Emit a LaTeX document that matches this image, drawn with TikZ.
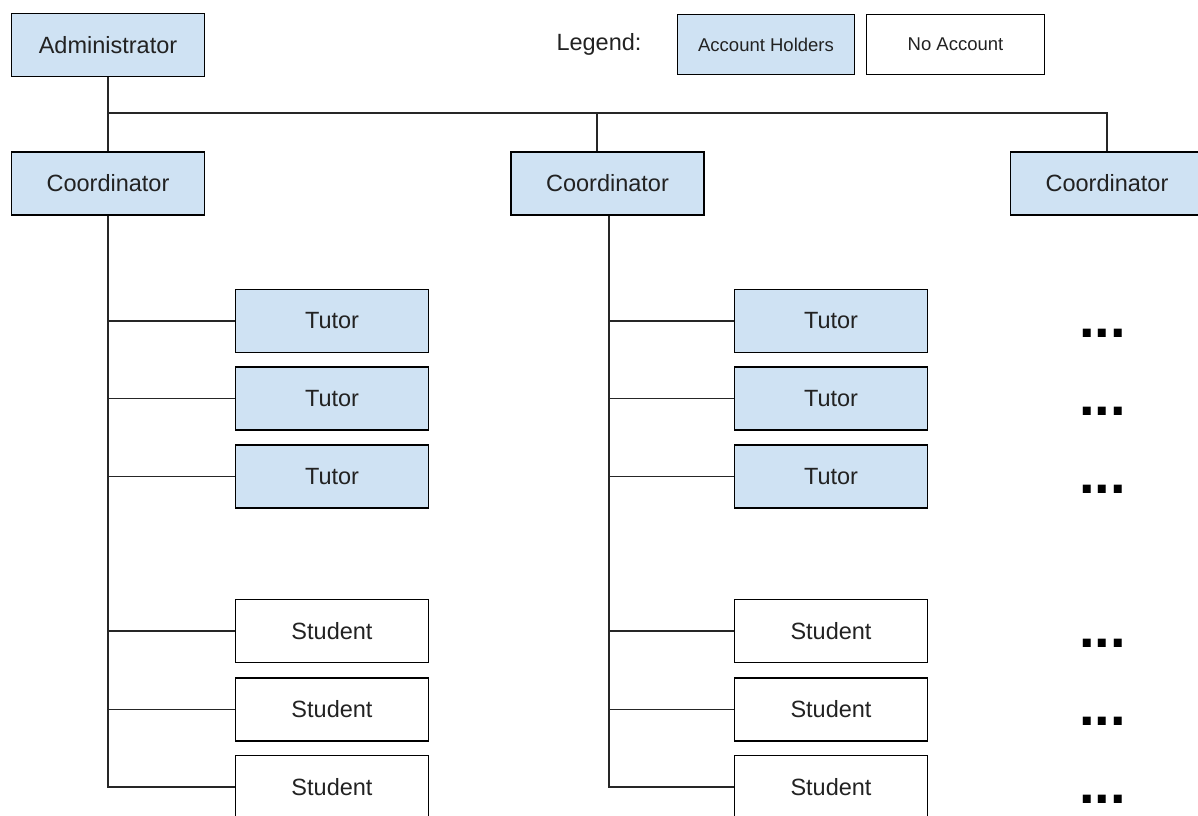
\documentclass[tikz,border=0pt]{standalone}
\usepackage{fontspec}
\setmainfont{Liberation Sans}
\definecolor{acct}{HTML}{CFE2F3}
\definecolor{ink}{HTML}{222222}
\begin{document}
\begin{tikzpicture}[x=1pt,y=-1pt,
  box/.style={draw=black,line width=1.8pt,minimum width=193pt,minimum height=63pt,inner sep=0pt,text=ink,font=\fontsize{23.5}{28}\selectfont},
  acc/.style={box,fill=acct},
  noacc/.style={box,fill=white},
  lbox/.style={draw=black,line width=1.8pt,minimum width=177pt,minimum height=60pt,inner sep=0pt,text=ink,font=\fontsize{18.5}{22}\selectfont},
  conn/.style={line width=1.8pt,draw=black!85},
  dots/.style={anchor=base,inner sep=0pt,font=\fontsize{56}{60}\selectfont\bfseries,text=black}]
\useasboundingbox[fill=white] (0,0) rectangle (1198,815);
% top
\node[acc] (adm) at (108,45) {Administrator};
\node[anchor=center,text=ink,font=\fontsize{23.5}{28}\selectfont] (leg) at (599,44) {Legend:};
\node[lbox,fill=acct] (lacc) at (766,44.5) {Account Holders};
\node[lbox,fill=white,minimum width=178pt] (lno) at (955.5,44.5) {No Account};
% coordinators
\node[acc] (c1) at (108,183.5) {Coordinator};
\node[acc] (c2) at (607.5,183.5) {Coordinator};
\node[acc] (c3) at (1107,183.5) {Coordinator};
% column 1
\node[acc] (t11) at (332,321) {Tutor};
\node[acc] (t12) at (332,398.5) {Tutor};
\node[acc] (t13) at (332,476.5) {Tutor};
\node[noacc] (s11) at (332,631) {Student};
\node[noacc] (s12) at (332,709.5) {Student};
\node[noacc] (s13) at (332,787) {Student};
% column 2
\node[acc] (t21) at (831,321) {Tutor};
\node[acc] (t22) at (831,398.5) {Tutor};
\node[acc] (t23) at (831,476.5) {Tutor};
\node[noacc] (s21) at (831,631) {Student};
\node[noacc] (s22) at (831,709.5) {Student};
\node[noacc] (s23) at (831,787) {Student};
% connectors
\coordinate (j) at (108,113);
\coordinate (d2) at (597,151);
\coordinate (b2) at (609,216);
\draw[conn] (adm.south) -- (c1.north);
\draw[conn] (j) -- (j -| c3.north) -- (c3.north);
\draw[conn] (d2 |- j) -- (d2);
\foreach \n in {t11,t12,t13,s11,s12,s13}{\draw[conn] (c1.south) |- (\n.west);}
\foreach \n in {t21,t22,t23,s21,s22,s23}{\draw[conn] (b2) |- (\n.west);}
% dots
\foreach \y/\nm in {337.5/e1,415.5/e2,493.5/e3,647.5/e4,725.5/e5,803.5/e6}{
  \node[dots] (\nm) at (1102.7,\y) {...};}
\end{tikzpicture}
\end{document}
